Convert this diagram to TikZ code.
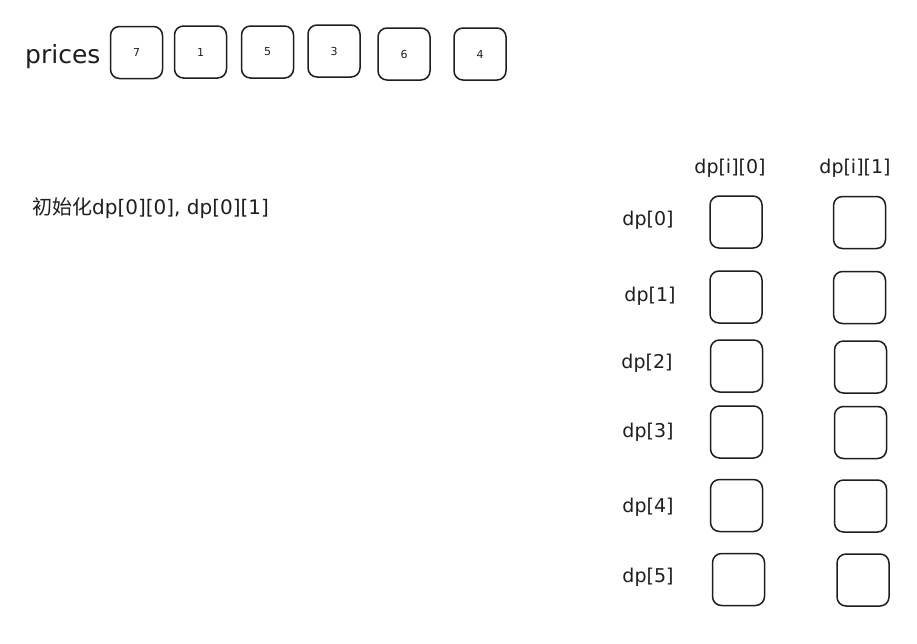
\documentclass[tikz,border=0pt]{standalone}
\usepackage{fontspec}
\setmainfont{DejaVu Sans}
\newfontfamily\cjk{Noto Sans CJK SC}
\definecolor{ink}{HTML}{1E1E1E}
\tikzset{
  cell/.style={draw=ink, text=ink, line width=1.5pt, rounded corners=9pt,
    minimum width=52pt, minimum height=52pt, inner sep=0pt,
    font=\fontsize{11}{13}\selectfont},
  lbl/.style={text=ink, inner sep=0pt, font=\fontsize{19}{22}\selectfont},
}
\begin{document}
\begin{tikzpicture}[x=1pt,y=-1pt]
\useasboundingbox[fill=white] (0,0) rectangle (917,643);
% prices row
\node[text=ink, inner sep=0pt, anchor=base west, font=\fontsize{25}{28}\selectfont] (pl) at (25,63) {prices};
\node[cell] (p0) at (136.5,52.5) {7};
\node[cell] (p1) at (200.5,52) {1};
\node[cell] (p2) at (267.5,52) {5};
\node[cell] (p3) at (334,51) {3};
\node[cell] (p4) at (404,54) {6};
\node[cell] (p5) at (480,54) {4};
% init text
\node[text=ink, inner sep=0pt, anchor=west, font=\fontsize{20}{23}\selectfont] (init) at (32,208) {{\cjk 初始化}dp[0][0], dp[0][1]};
% column headers
\node[lbl] (h0) at (730,168) {dp[i][0]};
\node[lbl] (h1) at (855,168) {dp[i][1]};
% row labels
\node[lbl] (r0) at (648,220) {dp[0]};
\node[lbl] (r1) at (650,296) {dp[1]};
\node[lbl] (r2) at (647,363) {dp[2]};
\node[lbl] (r3) at (648,432) {dp[3]};
\node[lbl] (r4) at (648,507) {dp[4]};
\node[lbl] (r5) at (648,577) {dp[5]};
% dp cells
\node[cell] (d00) at (736,222) {};
\node[cell] (d01) at (859.5,222.5) {};
\node[cell] (d10) at (736,297) {};
\node[cell] (d11) at (859.5,297.5) {};
\node[cell] (d20) at (736.5,366) {};
\node[cell] (d21) at (860.5,367) {};
\node[cell] (d30) at (736.5,432) {};
\node[cell] (d31) at (860.5,432.5) {};
\node[cell] (d40) at (736.5,505.5) {};
\node[cell] (d41) at (860.5,506) {};
\node[cell] (d50) at (738.5,579.5) {};
\node[cell] (d51) at (863,580) {};
\end{tikzpicture}
\end{document}
